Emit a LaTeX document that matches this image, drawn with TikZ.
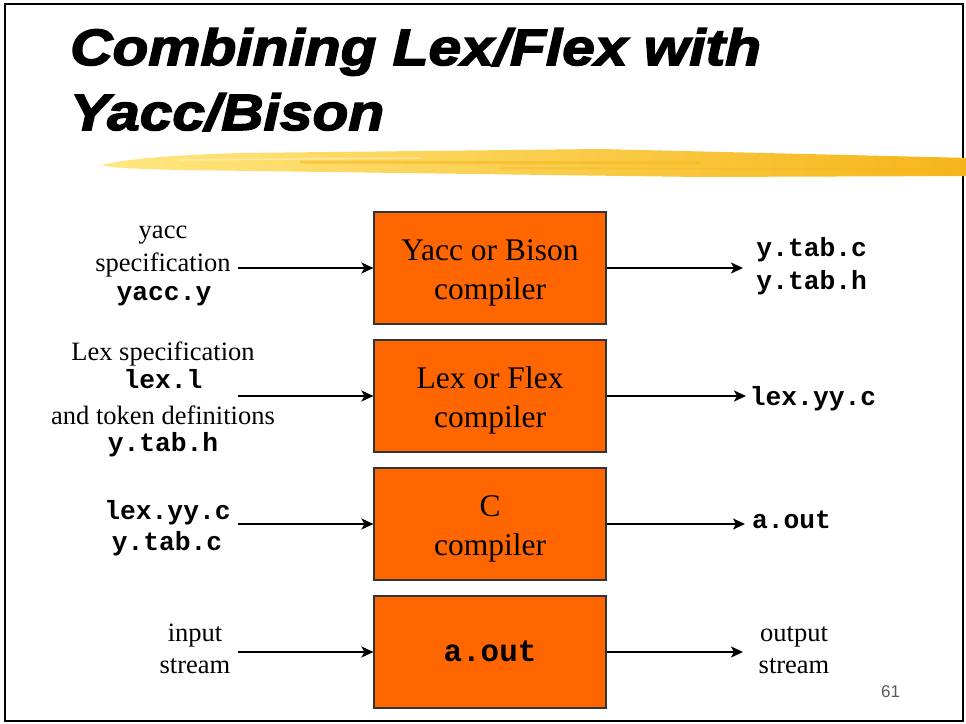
\documentclass[tikz,border=0pt]{standalone}
\usepackage{fontspec}
\setmainfont{Liberation Serif}
\setmonofont{Liberation Mono}
\setsansfont{Liberation Sans}
\newfontfamily\titlefont{Liberation Sans}[FakeStretch=1.15,FakeBold=3]
\usetikzlibrary{arrows.meta}
\definecolor{boxorange}{HTML}{FF6600}
\definecolor{hlA}{HTML}{FFE780}
\definecolor{hlB}{HTML}{F6B51A}
\tikzset{
  stepbox/.style={draw=black!80, line width=1.2pt, fill=boxorange,
    minimum width=232pt, minimum height=112pt, inner sep=0pt},
  boxtxt/.style={anchor=base, inner sep=0pt, font=\fontsize{31.5}{39}\selectfont},
  lbl/.style={anchor=base, inner sep=0pt, font=\fontsize{26.5}{31.6}\selectfont},
  code/.style={anchor=base, inner sep=0pt, font=\fontsize{26.3}{31.6}\selectfont\ttfamily\bfseries},
  ttl/.style={anchor=base west, inner sep=0pt, font=\titlefont\bfseries\itshape\fontsize{51}{63}\selectfont},
  arr/.style={line width=1.8pt, -{Stealth[length=12pt,width=11pt,inset=3pt]}}
}
\begin{document}
\begin{tikzpicture}[x=1pt,y=-1pt]
\useasboundingbox (0,0) rectangle (966,723);
\fill[white] (0,0) rectangle (966,723);
\draw[line width=2pt] (5,4) rectangle (963,721);
% highlighter stroke
\begin{scope}
\clip (0,0) rectangle (966,723);
\shade[left color=hlA, right color=hlB]
  (102,165) .. controls (130,158) and (180,155) .. (240,153)
  -- (600,149) -- (970,158) -- (970,176) -- (700,177)
  -- (400,173) -- (180,170) .. controls (140,169) and (110,168) .. (102,165) -- cycle;
\draw[hlB, opacity=0.5, line width=3pt] (300,162) -- (700,163);
\draw[hlB, opacity=0.4, line width=2pt] (500,168) -- (950,170);
\draw[white, opacity=0.35, line width=1.5pt] (180,160) -- (420,158);
\end{scope}
% title
\node[ttl] (t1) at (70,65) {Combining Lex/Flex with};
\node[ttl] (t2) at (70,130) {Yacc/Bison};
% boxes
\node[stepbox] (b1) at (490,268) {};
\node[stepbox] (b2) at (490,396) {};
\node[stepbox] (b3) at (490,524) {};
\node[stepbox] (b4) at (490,652) {};
\node[boxtxt] (b1a) at (490,260.7) {Yacc or Bison};
\node[boxtxt] (b1b) at (490,299.3) {compiler};
\node[boxtxt] (b2a) at (490,388.7) {Lex or Flex};
\node[boxtxt] (b2b) at (490,427.3) {compiler};
\node[boxtxt] (b3a) at (490,516.7) {C};
\node[boxtxt] (b3b) at (490,555.3) {compiler};
\node[code, font=\fontsize{30.9}{38}\selectfont\ttfamily\bfseries] (b4a) at (490,661.7) {a.out};
% left labels
\node[lbl] (l1a) at (163,238.3) {yacc};
\node[lbl] (l1b) at (163,271.3) {specification};
\node[code] (l1c) at (164,300.7) {yacc.y};
\node[lbl] (l2a) at (163,360) {Lex specification};
\node[code] (l2b) at (163,388.3) {lex.l};
\node[lbl] (l2c) at (163,424.3) {and token definitions};
\node[code] (l2d) at (163,451.7) {y.tab.h};
\node[code] (l3a) at (167.5,519) {lex.yy.c};
\node[code] (l3b) at (167,550) {y.tab.c};
\node[lbl] (l4a) at (195,641.7) {input};
\node[lbl] (l4b) at (195,673.3) {stream};
% right labels
\node[code] (r1a) at (811.7,256.7) {y.tab.c};
\node[code] (r1b) at (811.7,289.3) {y.tab.h};
\node[code] (r2a) at (813,405) {lex.yy.c};
\node[code] (r3a) at (791.5,528) {a.out};
\node[lbl] (r4a) at (794,641.7) {output};
\node[lbl] (r4b) at (794,673.3) {stream};
% arrow endpoints
\coordinate (s1) at (238,268);
\coordinate (s2) at (238,396);
\coordinate (s3) at (238,524);
\coordinate (s4) at (238,652);
\coordinate (e1) at (743,268);
\coordinate (e2) at (746,396);
\coordinate (e3) at (745,524);
\coordinate (e4) at (743,652);
\draw[arr] (s1) -- (b1.west);
\draw[arr] (s2) -- (b2.west);
\draw[arr] (s3) -- (b3.west);
\draw[arr] (s4) -- (b4.west);
\draw[arr] (b1.east) -- (e1);
\draw[arr] (b2.east) -- (e2);
\draw[arr] (b3.east) -- (e3);
\draw[arr] (b4.east) -- (e4);
% page number
\node[anchor=base, inner sep=0pt, text=black!65, font=\sffamily\fontsize{17}{20}\selectfont] (pn) at (890.5,697) {61};
\end{tikzpicture}
\end{document}
